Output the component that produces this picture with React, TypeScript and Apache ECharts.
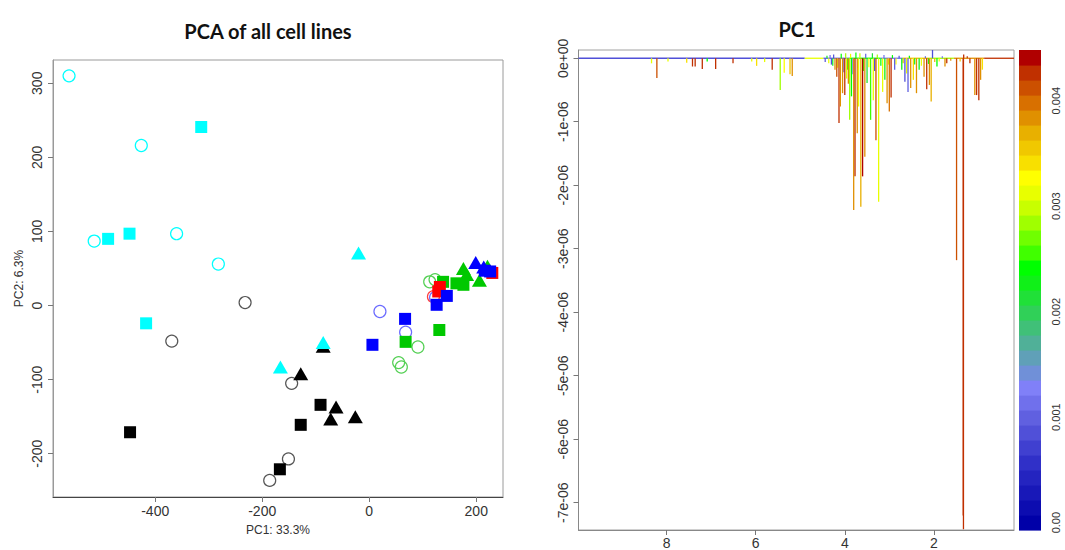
import React, { useEffect, useRef } from "react";
import * as echarts from "echarts";

// ---------- Left panel: PCA scores (PC1, PC2) ----------
const cyanCircles = [[-561, 310], [-426, 216], [-514, 87], [-360, 97], [-282, 56]];
const cyanSquares = [[-314, 241], [-488, 90], [-448, 97], [-417, -24]];
const cyanTriangles = [[-20, 71], [-86, -50], [-166, -83]];
const grayCircles = [[-232, 4], [-369, -48], [-145, -105], [-151, -207], [-186, -236]];
const blackSquares = [[-447, -171], [-91, -134], [-128, -161], [-167, -221]];
const blackTriangles = [[-86, -55], [-128, -92], [-62, -137], [-72, -153], [-26, -150]];
const blueCircles = [[20, -8], [68, -36], [124, 11]];
const blueSquares = [[6, -53], [67, -18], [126, 1], [145, 13], [216, 47], [226, 46]];
const blueTriangles = [[199, 58], [214, 52]];
const greenCircles = [[91, -56], [55, -77], [60, -83], [113, 32], [123, 35]];
const greenSquares = [[68, -49], [131, -33], [138, 32], [163, 30], [176, 28]];
const greenTriangles = [[176, 50], [182, 42], [206, 34], [221, 53]];
const redCircles = [[120, 12]];
const redSquares = [[129, 19], [132, 25], [230, 44]];

const pcaXTicks = [-400, -200, 0, 200];
const pcaYTicks = [-200, -100, 0, 100, 200, 300];

// ---------- Right panel: PC1 loadings (x, loading, colour value) ----------
const baselineSegments = [
  [9.98, 4.9, 0.0009],
  [4.9, 4.48, 0.0032],
  [4.48, 3.9, 0.001],
  [3.9, 3.2, 0.0024],
  [3.2, 2.7, 0.0012],
  [2.7, 2.1, 0.0035],
  [2.1, 1.55, 0.0028],
  [1.55, 0.87, 0.0038],
  [0.87, 0.2, 0.0042],
];

const minorSpikes = [
  [4.44, -0.06e-6, 0.0009], [4.4, 0.04e-6, 0.0023], [4.36, -0.08e-6, 0.0031], [4.33, 0.05e-6, 0.0012],
  [4.27, -0.12e-6, 0.0023], [4.25, 0.06e-6, 0.0008], [4.16, -0.15e-6, 0.0031], [4.08, 0.07e-6, 0.0024],
  [4.02, -0.22e-6, 0.0009], [3.98, 0.08e-6, 0.0028], [3.94, -0.18e-6, 0.0023], [3.87, 0.07e-6, 0.0031],
  [3.82, -0.25e-6, 0.0013], [3.75, 0.09e-6, 0.0024], [3.7, -0.15e-6, 0.0009], [3.66, 0.08e-6, 0.003],
  [3.58, -0.2e-6, 0.0025], [3.53, 0.07e-6, 0.001], [3.46, -0.14e-6, 0.0033], [3.38, 0.08e-6, 0.0022],
  [3.33, -0.2e-6, 0.0009], [3.27, 0.06e-6, 0.0028], [3.19, -0.12e-6, 0.0024], [3.12, 0.05e-6, 0.0011],
  [3.02, -0.1e-6, 0.0031], [2.93, 0.05e-6, 0.0024], [2.85, -0.1e-6, 0.0033], [2.78, 0.04e-6, 0.0009],
  [2.69, -0.08e-6, 0.0037], [2.55, 0.04e-6, 0.0024], [2.43, -0.1e-6, 0.0023], [2.28, -0.12e-6, 0.0032],
  [2.19, 0.03e-6, 0.001], [2.12, -0.09e-6, 0.0024], [1.98, -0.06e-6, 0.0037], [1.88, -0.05e-6, 0.0031],
  [1.81, 0.03e-6, 0.0012], [1.62, -0.04e-6, 0.0038], [1.41, -0.05e-6, 0.0036], [1.25, 0.03e-6, 0.0042],
];

const majorSpikes = [
  [8.34, -0.08e-6, 0.0031], [8.22, -0.31e-6, 0.0041], [7.97, -0.05e-6, 0.0032], [7.55, -0.07e-6, 0.0034],
  [7.42, -0.13e-6, 0.0043], [7.36, -0.13e-6, 0.0043], [7.2, -0.17e-6, 0.0043], [7.09, -0.05e-6, 0.0024],
  [6.9, -0.17e-6, 0.0042], [6.51, -0.08e-6, 0.0042], [6.09, -0.05e-6, 0.0031], [5.98, -0.12e-6, 0.0034],
  [5.8, -0.06e-6, 0.0032], [5.63, -0.18e-6, 0.0042], [5.45, -0.5e-6, 0.0029], [5.36, -0.23e-6, 0.0033],
  [5.23, -0.25e-6, 0.0036], [5.18, -0.28e-6, 0.0039],
  [4.3, -0.1e-6, 0.0009], [4.22, -0.18e-6, 0.0038], [4.18, -0.29e-6, 0.0041], [4.13, -1.02e-6, 0.0042],
  [4.1, -0.76e-6, 0.0039], [4.05, -0.55e-6, 0.0038], [4.0, -0.58e-6, 0.0043], [3.96, -0.32e-6, 0.0031],
  [3.92, -0.4e-6, 0.0038], [3.89, -0.97e-6, 0.0029], [3.85, -0.6e-6, 0.0024], [3.8, -2.39e-6, 0.0038],
  [3.77, -1.86e-6, 0.0043], [3.72, -1.18e-6, 0.0039], [3.69, -0.76e-6, 0.0032], [3.64, -2.34e-6, 0.0037],
  [3.6, -1.86e-6, 0.0044], [3.55, -1.55e-6, 0.0039], [3.5, -0.39e-6, 0.0022], [3.42, -0.97e-6, 0.0025],
  [3.36, -0.66e-6, 0.0031], [3.3, -1.29e-6, 0.0041], [3.24, -2.26e-6, 0.0031], [3.15, -0.53e-6, 0.0032],
  [3.1, -0.34e-6, 0.0023], [3.05, -0.71e-6, 0.0038], [3.0, -0.84e-6, 0.004], [2.96, -0.62e-6, 0.0042],
  [2.88, -0.18e-6, 0.001], [2.72, -0.18e-6, 0.0023], [2.65, -0.37e-6, 0.0008], [2.61, -0.24e-6, 0.0031],
  [2.58, -0.53e-6, 0.001], [2.52, -0.47e-6, 0.0038], [2.46, -0.34e-6, 0.0034], [2.39, -0.55e-6, 0.0039],
  [2.33, -0.18e-6, 0.0023], [2.22, -0.29e-6, 0.0038], [2.16, -0.49e-6, 0.0043], [2.1, -0.42e-6, 0.0039],
  [2.06, -0.68e-6, 0.0037], [2.03, 0.13e-6, 0.0008], [1.93, -0.13e-6, 0.0024], [1.75, -0.13e-6, 0.0039],
  [1.71, -0.08e-6, 0.0042], [1.49, -3.18e-6, 0.0041], [1.335, -7.42e-6, 0.0042], [1.34, -7.2e-6, 0.0043],
  [1.33, 0.06e-6, 0.0042], [1.19, -0.08e-6, 0.0042], [1.08, -0.58e-6, 0.0039], [1.04, -0.58e-6, 0.0042],
  [0.99, -0.66e-6, 0.0043], [0.95, -0.34e-6, 0.0038], [0.91, -0.18e-6, 0.0034],
];

const pc1XTicks = [2, 4, 6, 8];
const pc1YTicks = [0, -1e-6, -2e-6, -3e-6, -4e-6, -5e-6, -6e-6, -7e-6];

// ---------- Colour bar ----------
const palette = [
  "#0000A8", "#0C0CB0", "#1818B8", "#2424C0", "#3030C8", "#4040D0", "#5050D8", "#6060E0",
  "#7070EC", "#8080F8", "#7090D8", "#60A0B8", "#50B098", "#40C078", "#30D058", "#20E038",
  "#10F018", "#00FF00", "#40FF00", "#70FF00", "#A0FF00", "#C8FF00", "#E8FF00", "#FFFF00",
  "#F8E000", "#F0C800", "#E8B000", "#E09000", "#D87000", "#CC5000", "#C03000", "#B00000",
];
const cbMin = -0.00007;
const cbMax = 0.00448;
const cbTicks = [0, 0.001, 0.002, 0.003, 0.004];

function colorFor(v: number): string {
  const step = (cbMax - cbMin) / palette.length;
  let i = Math.floor((v - cbMin) / step);
  if (i < 0) i = 0;
  if (i > palette.length - 1) i = palette.length - 1;
  return palette[i];
}

const FONT = "'Liberation Sans', Arial, sans-serif";

export default function App() {
  const ref = useRef<HTMLDivElement>(null);

  useEffect(() => {
    if (!ref.current) return;
    const chart = echarts.init(ref.current, undefined, { renderer: "svg" });

    const cbStep = (cbMax - cbMin) / palette.length;
    const cbData = palette.map((_, i) => [cbMin + i * cbStep, cbMin + (i + 1) * cbStep, i]);

    const scatter = (name: string, data: number[][], symbol: string, color: string, hollow: boolean, size: any) => ({
      name,
      type: "scatter",
      xAxisIndex: 0,
      yAxisIndex: 0,
      data,
      symbol,
      symbolSize: size,
      itemStyle: hollow
        ? { color: "rgba(0,0,0,0)", borderColor: color, borderWidth: 1.2, opacity: 1 }
        : { color, borderWidth: 0, opacity: 1 },
      emphasis: { disabled: true },
    });

    const spikeSeries = (name: string, data: number[][], lw: number) => ({
      name,
      type: "custom",
      coordinateSystem: "cartesian2d",
      xAxisIndex: 1,
      yAxisIndex: 1,
      clip: true,
      encode: { x: 0, y: 1 },
      data,
      renderItem: (params: any, api: any) => {
        const p0 = api.coord([api.value(0), 0]);
        const p1 = api.coord([api.value(0), api.value(1)]);
        return {
          type: "line",
          shape: { x1: p0[0], y1: p0[1], x2: p1[0], y2: p1[1] },
          style: { stroke: colorFor(api.value(2)), lineWidth: lw },
        };
      },
    });

    const axisLabelBase = { fontSize: 14, color: "#333", fontFamily: FONT };

    const option: any = {
      animation: false,
      backgroundColor: "#fff",
      graphic: [
        {
          type: "text",
          x: 268,
          y: 31,
          style: {
            text: "PCA of all cell lines",
            fontSize: 20,
            fontWeight: "bold",
            fontFamily: "Lato, 'Open Sans', sans-serif",
            fill: "#111",
            align: "center",
            verticalAlign: "middle",
          },
        },
        {
          type: "text",
          x: 797,
          y: 29,
          style: {
            text: "PC1",
            fontSize: 20,
            fontWeight: "bold",
            fontFamily: "Lato, 'Open Sans', sans-serif",
            fill: "#111",
            align: "center",
            verticalAlign: "middle",
          },
        },
      ],
      grid: [
        { left: 53, top: 60, width: 450, height: 437, show: true, borderColor: "#9a9a9a", borderWidth: 1, backgroundColor: "#fff" },
        { left: 578.5, top: 50, width: 435.5, height: 480, show: true, borderColor: "#a0a0a0", borderWidth: 1, backgroundColor: "#fff" },
        { left: 1019, top: 50, width: 22, height: 480, show: false },
      ],
      xAxis: [
        {
          gridIndex: 0,
          type: "value",
          min: -591,
          max: 250,
          splitLine: { show: false },
          axisLine: { show: true, onZero: false, lineStyle: { color: "#444", width: 1 } },
          axisTick: { show: true, length: 5, customValues: pcaXTicks, lineStyle: { color: "#777" } },
          axisLabel: { ...axisLabelBase, customValues: pcaXTicks, margin: 7, hideOverlap: false },
          name: "PC1: 33.3%",
          nameLocation: "middle",
          nameGap: 27,
          nameTextStyle: { fontSize: 12, color: "#333", fontFamily: FONT },
        },
        {
          gridIndex: 1,
          type: "value",
          inverse: true,
          min: 0.2,
          max: 9.98,
          splitLine: { show: false },
          axisLine: { show: true, onZero: false, lineStyle: { color: "#888", width: 1 } },
          axisTick: { show: true, length: 5, customValues: pc1XTicks, lineStyle: { color: "#777" } },
          axisLabel: { ...axisLabelBase, customValues: pc1XTicks, margin: 6, hideOverlap: false },
        },
        { gridIndex: 2, type: "value", min: 0, max: 1, show: false },
      ],
      yAxis: [
        {
          gridIndex: 0,
          type: "value",
          min: -258.4,
          max: 331.4,
          splitLine: { show: false },
          axisLine: { show: true, onZero: false, lineStyle: { color: "#999", width: 1 } },
          axisTick: { show: true, length: 5, customValues: pcaYTicks, lineStyle: { color: "#777" } },
          axisLabel: { ...axisLabelBase, customValues: pcaYTicks, rotate: 90, margin: 9, hideOverlap: false },
          name: "PC2: 6.3%",
          nameLocation: "middle",
          nameGap: 28,
          nameRotate: 90,
          nameTextStyle: { fontSize: 12, color: "#333", fontFamily: FONT },
        },
        {
          gridIndex: 1,
          type: "value",
          min: -7.43e-6,
          max: 0.13e-6,
          splitLine: { show: false },
          axisLine: { show: true, onZero: false, lineStyle: { color: "#888", width: 1 } },
          axisTick: { show: true, length: 5, customValues: pc1YTicks, lineStyle: { color: "#777" } },
          axisLabel: {
            ...axisLabelBase,
            customValues: pc1YTicks,
            rotate: 90,
            margin: 9,
            hideOverlap: false,
            formatter: (v: number) => {
              const n = Math.round(v * 1e6);
              return n === 0 ? "0e+00" : `${n}e-06`;
            },
          },
        },
        {
          gridIndex: 2,
          type: "value",
          position: "right",
          min: cbMin,
          max: cbMax,
          splitLine: { show: false },
          axisLine: { show: false },
          axisTick: { show: true, length: 5, customValues: cbTicks, lineStyle: { color: "#777" } },
          axisLabel: {
            fontSize: 11,
            color: "#333",
            fontFamily: FONT,
            customValues: cbTicks,
            rotate: 90,
            margin: 9,
            hideOverlap: false,
            formatter: (v: number) => (Math.abs(v) < 1e-12 ? "0.00" : v.toFixed(3)),
          },
        },
      ],
      series: [
        scatter("gray circles", grayCircles, "circle", "#555555", true, 12),
        scatter("black squares", blackSquares, "rect", "#000000", false, 12),
        scatter("black triangles", blackTriangles, "triangle", "#000000", false, [15, 13]),
        scatter("cyan circles", cyanCircles, "circle", "#00FFFF", true, 12),
        scatter("cyan squares", cyanSquares, "rect", "#00FFFF", false, 12),
        scatter("cyan triangles", cyanTriangles, "triangle", "#00FFFF", false, [15, 13]),
        scatter("green circles", greenCircles, "circle", "#55D055", true, 12),
        scatter("red circles", redCircles, "circle", "#FF4040", true, 12),
        scatter("blue circles", blueCircles, "circle", "#6B6BFF", true, 12),
        scatter("green squares", greenSquares, "rect", "#00C800", false, 12),
        scatter("green triangles", greenTriangles, "triangle", "#00C800", false, [15, 13]),
        scatter("red squares", redSquares, "rect", "#FF0000", false, 12),
        scatter("blue squares", blueSquares, "rect", "#0000FF", false, 12),
        scatter("blue triangles", blueTriangles, "triangle", "#0000FF", false, [15, 13]),
        {
          name: "baseline",
          type: "custom",
          coordinateSystem: "cartesian2d",
          xAxisIndex: 1,
          yAxisIndex: 1,
          clip: true,
          encode: { x: [0, 1] },
          data: baselineSegments,
          renderItem: (params: any, api: any) => {
            const p0 = api.coord([api.value(0), 0]);
            const p1 = api.coord([api.value(1), 0]);
            return {
              type: "line",
              shape: { x1: p0[0], y1: p0[1], x2: p1[0], y2: p1[1] },
              style: { stroke: colorFor(api.value(2)), lineWidth: 1.3 },
            };
          },
        },
        spikeSeries("minor", minorSpikes, 1.2),
        spikeSeries("major", majorSpikes, 1.3),
        {
          name: "colorbar",
          type: "custom",
          coordinateSystem: "cartesian2d",
          xAxisIndex: 2,
          yAxisIndex: 2,
          encode: { y: [0, 1] },
          data: cbData,
          renderItem: (params: any, api: any) => {
            const tl = api.coord([0, api.value(1)]);
            const br = api.coord([1, api.value(0)]);
            return {
              type: "rect",
              shape: { x: tl[0], y: tl[1], width: br[0] - tl[0], height: br[1] - tl[1] + 0.6 },
              style: { fill: palette[api.value(2)] },
            };
          },
        },
      ],
    };

    chart.setOption(option);
    return () => chart.dispose();
  }, []);

  return (
    <div
      ref={ref}
      style={{ position: "absolute", left: 0, top: 0, width: 1065, height: 550, background: "#fff" }}
    />
  );
}
